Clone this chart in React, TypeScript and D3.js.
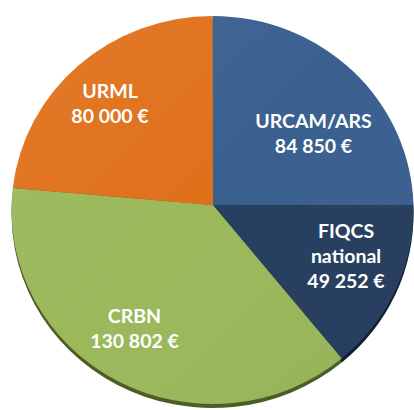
import React from "react";
import * as d3 from "d3";

const categories = ["URCAM/ARS", "FIQCS national", "CRBN", "URML"];
const labelLines = [["URCAM/ARS"], ["FIQCS", "national"], ["CRBN"], ["URML"]];
const values = [84850, 49252, 130802, 80000];
const colors = ["#3A6090", "#263E5F", "#9BB85B", "#E0701A"];
const rimColors = ["#1F3352", "#121E30", "#4C5E26", "#8A4410"];

const W = 414;
const H = 410;
const CX = 212.5;
const CY = 210;
const RX = 201;
const RY = 194;
const APEX: [number, number] = [213, 205];
// label block centres (layout only)
const LABEL_POS: [number, number][] = [
  [313.5, 133.5],
  [346, 256],
  [134.5, 328.5],
  [110, 103],
];

const fmt = (v: number) => d3.format(",")(v).replace(/,/g, " ") + " €";

function pt(a: number, dy = 0): [number, number] {
  return [CX + RX * Math.sin(a), CY - RY * Math.cos(a) + dy];
}

function slicePath(a0: number, a1: number, dy = 0) {
  const p0 = pt(a0, dy);
  const p1 = pt(a1, dy);
  const large = a1 - a0 > Math.PI ? 1 : 0;
  const p = d3.path();
  p.moveTo(APEX[0], APEX[1] + dy);
  p.lineTo(p0[0], p0[1]);
  return (
    p.toString() +
    `A${RX},${RY} 0 ${large} 1 ${p1[0]},${p1[1]}Z`
  );
}

export default function App() {
  const pie = d3
    .pie<number>()
    .sort(null)
    .value((d) => d)
    .startAngle(0)
    .endAngle(2 * Math.PI);
  const arcs = pie(values);
  const fontSize = 19.5;
  const lineH = 25;

  return (
    <svg
      width={W}
      height={H}
      style={{ position: "absolute", left: 0, top: 0, background: "#fff" }}
    >
      <defs>
        <linearGradient id="shine" x1="0" y1="0" x2="1" y2="1">
          <stop offset="0" stopColor="#fff" stopOpacity={0.07} />
          <stop offset="0.5" stopColor="#fff" stopOpacity={0} />
          <stop offset="1" stopColor="#000" stopOpacity={0.05} />
        </linearGradient>
      </defs>
      <g>
        {arcs.map((a, i) => (
          <path
            key={"rim" + i}
            d={slicePath(a.startAngle, a.endAngle, 4)}
            fill={rimColors[i]}
          />
        ))}
        {arcs.map((a, i) => (
          <path
            key={"s" + i}
            d={slicePath(a.startAngle, a.endAngle)}
            fill={colors[i]}
          />
        ))}
        <ellipse cx={CX} cy={CY} rx={RX} ry={RY} fill="url(#shine)" />
      </g>
      <g
        fill="#fff"
        fontFamily="Lato, 'Open Sans', sans-serif"
        fontWeight="bold"
        fontSize={fontSize}
        textAnchor="middle"
      >
        {arcs.map((a, i) => {
          const lines = [...labelLines[i], fmt(values[i])];
          const [x, y] = LABEL_POS[i];
          const top = y - ((lines.length - 1) * lineH) / 2;
          return (
            <text key={categories[i]} x={x} y={top}>
              {lines.map((l, j) => (
                <tspan key={j} x={x} y={top + j * lineH} dy="0.36em">
                  {l}
                </tspan>
              ))}
            </text>
          );
        })}
      </g>
    </svg>
  );
}
